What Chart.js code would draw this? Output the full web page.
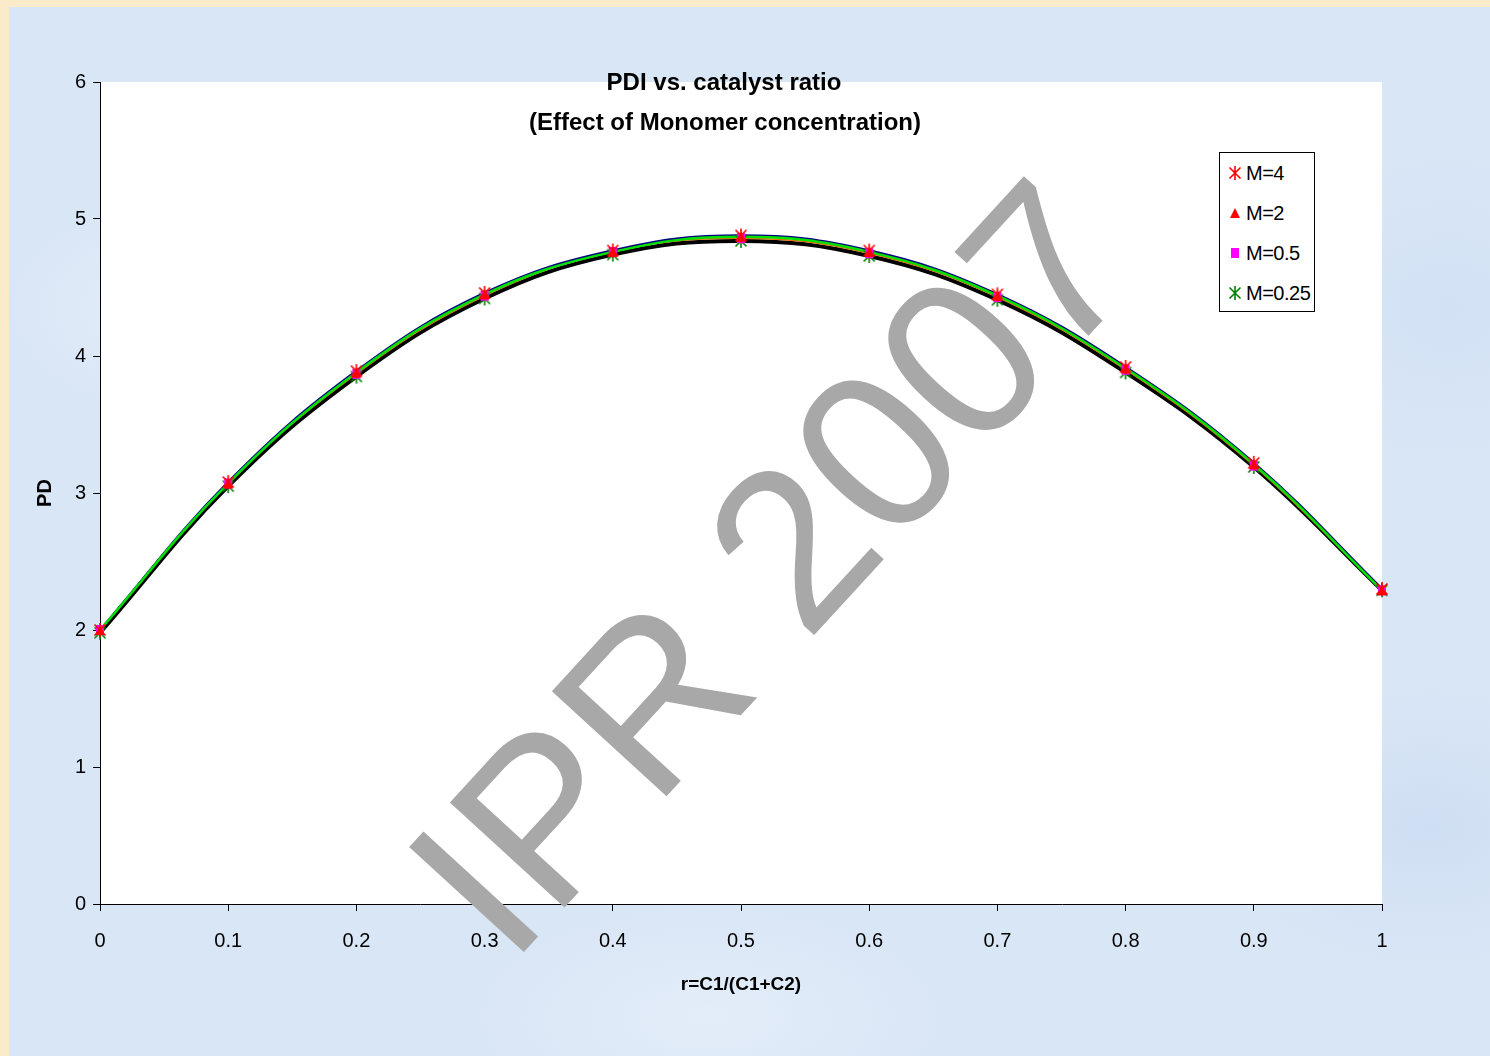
<!DOCTYPE html>
<html>
<head>
<meta charset="utf-8">
<title>PDI vs. catalyst ratio</title>
<script src="https://cdn.jsdelivr.net/npm/chart.js@4.4.0/dist/chart.umd.min.js"></script>
<style>
  html, body { margin: 0; padding: 0; }
  body {
    width: 1490px; height: 1056px; position: relative; overflow: hidden;
    background: #fcebc9;
    font-family: "Liberation Sans", Arial, sans-serif;
  }
  #bg {
    position: absolute; left: 9px; top: 7px; right: 0; bottom: 0;
    background:
      radial-gradient(ellipse 260px 160px at 180px 300px, rgba(235,242,252,0.7), rgba(235,242,252,0) 70%),
      radial-gradient(ellipse 300px 200px at 1420px 820px, rgba(200,218,240,0.6), rgba(200,218,240,0) 70%),
      radial-gradient(ellipse 340px 160px at 700px 1010px, rgba(232,240,251,0.7), rgba(232,240,251,0) 70%),
      radial-gradient(ellipse 260px 220px at 1440px 300px, rgba(205,222,243,0.6), rgba(205,222,243,0) 70%),
      #d9e6f6;
  }
  #wrap { position: absolute; left: 0; top: 0; width: 1490px; height: 1056px; }
  #legend {
    position: absolute; left: 1219px; top: 152px; width: 94px; height: 158px;
    background: #fff; border: 1px solid #000;
  }
  .row { position: absolute; left: 0; height: 24px; font-size: 20px; line-height: 24px; color: #000; letter-spacing: -0.5px; }
  .row img { position: absolute; }
  .row span { position: absolute; left: 26px; top: 0; white-space: nowrap; }
</style>
</head>
<body>
<div id="bg"></div>
<div id="wrap"><canvas id="pdiChart" width="1490" height="1056"></canvas></div>
<div id="legend"></div>
<script>
// data
const xValues = [0, 0.1, 0.2, 0.3, 0.4, 0.5, 0.6, 0.7, 0.8, 0.9, 1];
const xTickLabels = ['0', '0.1', '0.2', '0.3', '0.4', '0.5', '0.6', '0.7', '0.8', '0.9', '1'];
const yTickLabels = ['0', '1', '2', '3', '4', '5', '6'];
const seriesNames = ['M=4', 'M=2', 'M=0.5', 'M=0.25'];
const pdM4   = [2.00, 3.08, 3.89, 4.46, 4.77, 4.88, 4.77, 4.45, 3.92, 3.22, 2.30];
const pdM2   = [2.00, 3.07, 3.88, 4.45, 4.76, 4.87, 4.76, 4.44, 3.91, 3.21, 2.29];
const pdM05  = [2.00, 3.07, 3.87, 4.44, 4.76, 4.86, 4.75, 4.43, 3.90, 3.20, 2.29];
const pdM025 = [1.98, 3.05, 3.85, 4.42, 4.74, 4.84, 4.73, 4.41, 3.88, 3.19, 2.29];

const FONT = '"Liberation Sans", Arial, sans-serif';

function pts(arr) {
  return arr.map((y, i) => ({ x: xValues[i], y: y }));
}

// marker canvases, excel style
function makeMarker(kind, color) {
  const c = document.createElement('canvas');
  c.width = 16; c.height = 16;
  const g = c.getContext('2d');
  g.strokeStyle = color; g.fillStyle = color; g.lineWidth = 1.6;
  if (kind === 'asterisk') {
    g.beginPath();
    g.moveTo(8, 1); g.lineTo(8, 15);
    g.moveTo(2.5, 2.5); g.lineTo(13.5, 13.5);
    g.moveTo(13.5, 2.5); g.lineTo(2.5, 13.5);
    g.stroke();
  } else if (kind === 'triangle') {
    g.beginPath();
    g.moveTo(8, 3); g.lineTo(13, 13); g.lineTo(3, 13);
    g.closePath(); g.fill();
  } else {
    g.fillRect(4, 3, 8, 10);
  }
  return c;
}

const markers = [
  makeMarker('asterisk', '#ff0000'),
  makeMarker('triangle', '#ff0000'),
  makeMarker('square', '#ff00ff'),
  makeMarker('asterisk', '#008000')
];
const seriesData = [pdM4, pdM2, pdM05, pdM025];
const lineColors = ['#000080', '#00e000', '#e07000', '#000000'];
const lineWidths = [2.5, 2.5, 1.5, 4];
const lineOrder = [12, 10, 11, 13];

const datasets = [];
seriesData.forEach((arr, i) => {
  datasets.push({
    label: seriesNames[i],
    data: pts(arr),
    showLine: false,
    pointStyle: markers[i],
    pointRadius: 7,
    pointHoverRadius: 7,
    clip: false,
    order: 1 + i
  });
});
seriesData.forEach((arr, i) => {
  datasets.push({
    label: '_line' + i,
    data: pts(arr),
    showLine: true,
    borderColor: lineColors[i],
    borderWidth: lineWidths[i],
    pointRadius: 0,
    tension: 0.4,
    fill: false,
    order: lineOrder[i]
  });
});

const plotBg = {
  id: 'plotBg',
  beforeDraw(chart) {
    const { ctx, chartArea: a } = chart;
    ctx.save();
    ctx.fillStyle = '#ffffff';
    ctx.fillRect(a.left, a.top, a.right - a.left, a.bottom - a.top);
    ctx.restore();
  },
  beforeDatasetsDraw(chart) {
    // watermark
    const ctx = chart.ctx;
    ctx.save();
    ctx.translate(782, 578);
    ctx.rotate(-47.5 * Math.PI / 180);
    ctx.font = '226px ' + FONT;
    ctx.fillStyle = '#a8a8a8';
    ctx.textAlign = 'center';
    ctx.textBaseline = 'middle';
    ctx.fillText('IPR 2007', 0, 0);
    ctx.restore();
  },
  afterDraw(chart) {
    const ctx = chart.ctx;
    ctx.save();
    ctx.font = 'bold 24px ' + FONT;
    ctx.fillStyle = '#000';
    ctx.textAlign = 'center';
    ctx.textBaseline = 'middle';
    ctx.fillText('PDI vs. catalyst ratio', 724, 83);
    ctx.fillText('(Effect of Monomer concentration)', 725, 123);
    ctx.restore();
  }
};

new Chart(document.getElementById('pdiChart'), {
  type: 'scatter',
  data: { datasets: datasets },
  options: {
    responsive: false,
    animation: false,
    layout: { padding: { top: 82, right: 108, left: 0, bottom: 0 } },
    plugins: {
      legend: { display: false },
      tooltip: { enabled: false },
      title: { display: false }
    },
    scales: {
      x: {
        type: 'linear', min: 0, max: 1,
        afterFit(s) { s.height = 152; },
        grid: { drawOnChartArea: false, drawTicks: true, tickLength: 7, color: '#000' },
        border: { display: true, color: '#000', width: 1 },
        ticks: {
          stepSize: 0.1, autoSkip: false, maxRotation: 0, padding: 18,
          color: '#000', font: { family: FONT, size: 20 },
          callback: (v, i) => xTickLabels[i]
        },
        title: {
          display: true, text: 'r=C1/(C1+C2)', color: '#000',
          font: { family: FONT, size: 19, weight: 'bold' },
          padding: { top: 0, bottom: 60 }
        }
      },
      y: {
        type: 'linear', min: 0, max: 6,
        afterFit(s) { s.width = 100; },
        grid: { drawOnChartArea: false, drawTicks: true, tickLength: 7, color: '#000' },
        border: { display: true, color: '#000', width: 1 },
        ticks: {
          stepSize: 1, padding: 7,
          color: '#000', font: { family: FONT, size: 20 },
          callback: (v, i) => yTickLabels[i]
        },
        title: {
          display: true, text: 'PD', color: '#000',
          font: { family: FONT, size: 20, weight: 'bold' },
          padding: { top: 33, bottom: 0 }
        }
      }
    }
  },
  plugins: [plotBg]
});

// html legend
const legend = document.getElementById('legend');
seriesNames.forEach((name, i) => {
  const row = document.createElement('div');
  row.className = 'row';
  row.style.top = (8 + i * 40) + 'px';
  const img = document.createElement('img');
  img.src = markers[i].toDataURL();
  img.style.left = '7px';
  img.style.top = '4px';
  const span = document.createElement('span');
  span.textContent = name;
  row.appendChild(img);
  row.appendChild(span);
  legend.appendChild(row);
});
</script>
</body>
</html>
